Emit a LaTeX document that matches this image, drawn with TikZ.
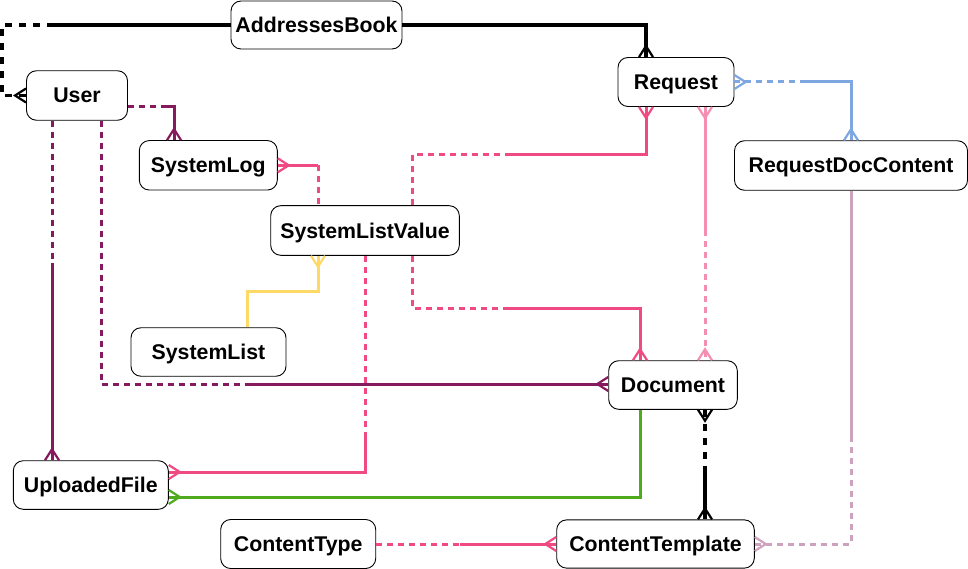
\documentclass[tikz,border=0pt]{standalone}
\usepackage{fontspec}
\setmainfont{Liberation Sans}
\usetikzlibrary{calc}
\definecolor{cpur}{HTML}{861A5E}
\definecolor{cpink}{HTML}{F04A84}
\definecolor{clpink}{HTML}{F48FB1}
\definecolor{cblue}{HTML}{7EA6E0}
\definecolor{cyel}{HTML}{FFD966}
\definecolor{cgreen}{HTML}{4FAA1E}
\definecolor{cmauve}{HTML}{CDA2BE}
\tikzset{
  ent/.style={draw=black, line width=0.9pt, rounded corners=10pt, fill=white, inner sep=0pt,
    text height=15pt, text depth=0pt,
    font=\fontsize{21.3}{24}\selectfont\bfseries},
  rel/.style={line width=3pt},
  relb/.style={line width=3.4pt},
  dsh/.style={dash pattern=on 6pt off 5pt},
  bdsh/.style={dash pattern=on 7pt off 7pt},
}
\newcommand{\cf}[4]{\draw[#1,line width=2.2pt,solid,line join=miter]
  ($(#2)+({7*(#4)},{7*(#3)})$) -- ($(#2)+({11*(#3)},{11*(#4)})$) -- ($(#2)-({7*(#4)},{7*(#3)})$);}
\begin{document}
\begin{tikzpicture}[x=1pt,y=-1pt]
\useasboundingbox (0,0) rectangle (968,569);
% entities
\node[ent, minimum width=171pt, minimum height=48pt] (ab) at (316.5,25) {AddressesBook};
\node[ent, minimum width=101pt, minimum height=49.5pt] (u) at (77,95.5) {User};
\node[ent, minimum width=116pt, minimum height=49pt] (r) at (676,82) {Request};
\node[ent, minimum width=233pt, minimum height=49.5pt] (rdc) at (851,165.5) {RequestDocContent};
\node[ent, minimum width=138pt, minimum height=49.5pt] (sl) at (208.3,165.3) {SystemLog};
\node[ent, minimum width=188.6pt, minimum height=49.6pt] (slv) at (365,230.5) {SystemListValue};
\node[ent, minimum width=155pt, minimum height=48.5pt] (sli) at (208.5,352) {SystemList};
\node[ent, minimum width=128.6pt, minimum height=48.6pt] (doc) at (673,385) {Document};
\node[ent, minimum width=155pt, minimum height=48.6pt] (uf) at (90.8,485) {UploadedFile};
\node[ent, minimum width=155pt, minimum height=49pt] (ctype) at (298.2,544) {ContentType};
\node[ent, minimum width=197.6pt, minimum height=48.3pt] (ctpl) at (655.5,544) {ContentTemplate};
% E1 AddressesBook - User
\coordinate (e1a) at (2,0 |- u.west);
\coordinate (e1b) at (2,0 |- ab.west);
\coordinate (e1m) at (50,0 |- ab.west);
\draw[relb,bdsh] (u.west) -- (e1a) -- (e1b) -- (e1m);
\draw[relb] (e1m) -- (ab.west);
\cf{black}{u.west}{-1}{0}
% E2 AddressesBook - Request
\coordinate (e2a) at (646,0 |- ab.east);
\coordinate (e2b) at (646,0 |- r.north);
\draw[relb] (ab.east) -- (e2a) -- (e2b);
\cf{black}{e2b}{0}{-1}
% E3 Request - RequestDocContent
\coordinate (e3m) at (806,0 |- r.east);
\coordinate (e3a) at (851,0 |- r.east);
\coordinate (e3b) at (851,0 |- rdc.north);
\draw[rel,cblue,dsh] (r.east) -- (e3m);
\draw[rel,cblue] (e3m) -- (e3a) -- (e3b);
\cf{cblue}{r.east}{1}{0}
\cf{cblue}{e3b}{0}{-1}
% E4 User - SystemLog
\coordinate (e4s) at (u.east |- 0,107);
\coordinate (e4m) at (165,107);
\coordinate (e4a) at (174,107);
\coordinate (e4b) at (174,0 |- sl.north);
\draw[rel,cpur,dsh] (e4s) -- (e4m);
\draw[rel,cpur] (e4m) -- (e4a) -- (e4b);
\cf{cpur}{e4b}{0}{-1}
% E5 User - UploadedFile
\coordinate (e5s) at (52,0 |- u.south);
\coordinate (e5m) at (52,263);
\coordinate (e5e) at (52,0 |- uf.north);
\draw[rel,cpur,dsh] (e5s) -- (e5m);
\draw[rel,cpur] (e5m) -- (e5e);
\cf{cpur}{e5e}{0}{-1}
% E6 User - Document
\coordinate (e6s) at (101,0 |- u.south);
\coordinate (e6a) at (101,384);
\coordinate (e6m) at (245,384);
\coordinate (e6e) at (doc.west |- 0,384);
\draw[rel,cpur,dsh] (e6s) -- (e6a) -- (e6m);
\draw[rel,cpur] (e6m) -- (e6e);
\cf{cpur}{e6e}{-1}{0}
% E7 SystemLog - SystemListValue
\coordinate (e7a) at (318,0 |- sl.east);
\coordinate (e7e) at (318,0 |- slv.north);
\draw[rel,cpink] (sl.east) -- (e7a);
\draw[rel,cpink,dsh] (e7a) -- (e7e);
\cf{cpink}{sl.east}{1}{0}
% E8 SystemListValue - SystemList
\coordinate (e8s) at (318,0 |- slv.south);
\coordinate (e8a) at (318,291);
\coordinate (e8b) at (247,291);
\coordinate (e8e) at (247,0 |- sli.north);
\draw[rel,cyel] (e8s) -- (e8a) -- (e8b) -- (e8e);
\cf{cyel}{e8s}{0}{1}
% E9 SystemListValue - Request
\coordinate (e9s) at (412,0 |- slv.north);
\coordinate (e9a) at (412,155);
\coordinate (e9m) at (507,155);
\coordinate (e9b) at (646,155);
\coordinate (e9e) at (646,0 |- r.south);
\draw[rel,cpink,dsh] (e9s) -- (e9a) -- (e9m);
\draw[rel,cpink] (e9m) -- (e9b) -- (e9e);
\cf{cpink}{e9e}{0}{1}
% E10 SystemListValue - Document
\coordinate (e10s) at (412,0 |- slv.south);
\coordinate (e10a) at (412,308);
\coordinate (e10m) at (503,308);
\coordinate (e10b) at (640,308);
\coordinate (e10e) at (640,0 |- doc.north);
\draw[rel,cpink,dsh] (e10s) -- (e10a) -- (e10m);
\draw[rel,cpink] (e10m) -- (e10b) -- (e10e);
\cf{cpink}{e10e}{0}{-1}
% E11 SystemListValue - UploadedFile
\coordinate (e11s) at (365,0 |- slv.south);
\coordinate (e11m) at (365,437);
\coordinate (e11a) at (365,472);
\coordinate (e11e) at (uf.east |- 0,472);
\draw[rel,cpink,dsh] (e11s) -- (e11m);
\draw[rel,cpink] (e11m) -- (e11a) -- (e11e);
\cf{cpink}{e11e}{1}{0}
% E12 Document - UploadedFile
\coordinate (e12s) at (640,0 |- doc.south);
\coordinate (e12a) at (640,497);
\coordinate (e12e) at (uf.east |- 0,497);
\draw[rel,cgreen] (e12s) -- (e12a) -- (e12e);
\cf{cgreen}{e12e}{1}{0}
% E13 Request - Document
\coordinate (e13s) at (705,0 |- r.south);
\coordinate (e13m) at (705,230);
\coordinate (e13e) at (705,0 |- doc.north);
\draw[rel,clpink] (e13s) -- (e13m);
\draw[rel,clpink,dsh] (e13m) -- (e13e);
\cf{clpink}{e13s}{0}{1}
\cf{clpink}{e13e}{0}{-1}
% E14 RequestDocContent - ContentTemplate
\coordinate (e14s) at (851,0 |- rdc.south);
\coordinate (e14m) at (851,436);
\coordinate (e14a) at (851,0 |- ctpl.east);
\draw[rel,cmauve] (e14s) -- (e14m);
\draw[rel,cmauve,dsh] (e14m) -- (e14a) -- (ctpl.east);
\cf{cmauve}{ctpl.east}{1}{0}
% E15 Document - ContentTemplate
\coordinate (e15s) at (705,0 |- doc.south);
\coordinate (e15m) at (705,470);
\coordinate (e15e) at (705,0 |- ctpl.north);
\draw[relb,bdsh] (e15s) -- (e15m);
\draw[relb] (e15m) -- (e15e);
\cf{black}{e15s}{0}{1}
\cf{black}{e15e}{0}{-1}
% E16 ContentType - ContentTemplate
\coordinate (e16m) at (460,0 |- ctype.east);
\draw[rel,cpink,dsh] (ctype.east) -- (e16m);
\draw[rel,cpink] (e16m) -- (ctpl.west);
\cf{cpink}{ctpl.west}{-1}{0}
\end{tikzpicture}
\end{document}
